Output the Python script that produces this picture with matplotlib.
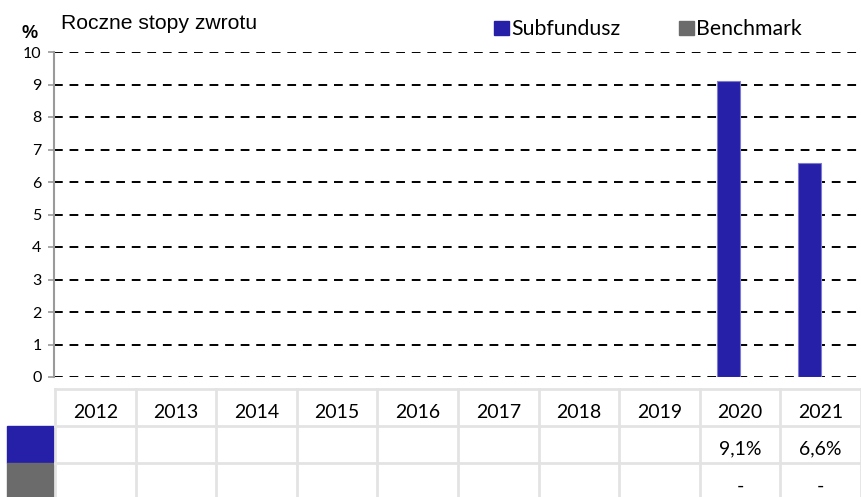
import numpy as np
import matplotlib.pyplot as plt
from matplotlib.patches import Rectangle

years = ["2012", "2013", "2014", "2015", "2016", "2017", "2018", "2019", "2020", "2021"]
subfund = [None, None, None, None, None, None, None, None, 9.1, 6.6]
benchmark = [None, None, None, None, None, None, None, None, None, None]
subfund_labels = ["", "", "", "", "", "", "", "", "9,1%", "6,6%"]
bench_labels = ["", "", "", "", "", "", "", "", "-", "-"]

blue = "#2620A8"
grey = "#6B6B6B"
W, H = 861, 497

fig = plt.figure(figsize=(W / 100, H / 100), dpi=100)

def px(l, t, r, b):
    return [l / W, 1 - b / H, (r - l) / W, (b - t) / H]

ax = fig.add_axes(px(54, 52, 861, 377))
x = np.arange(len(years))
sub_vals = [np.nan if v is None else v for v in subfund]
ben_vals = [np.nan if v is None else v for v in benchmark]
bw = 0.29
ax.bar(x - 0.14, sub_vals, width=bw, color=blue, edgecolor="#7d7ad0", linewidth=0.8, zorder=3)
ax.bar(x + 0.16, ben_vals, width=bw, color=grey, zorder=3)
ax.set_xlim(-0.5, len(years) - 0.5)
ax.set_ylim(0, 10)
ax.set_yticks(range(0, 11))
ax.set_xticks([])
ax.yaxis.grid(True, color="black", linestyle=(0, (4.5, 3.5)), linewidth=1.4, zorder=1)
for s in ["top", "right", "bottom"]:
    ax.spines[s].set_visible(False)
ax.spines["left"].set_color("#9a9a9a")
ax.spines["left"].set_linewidth(1.5)
ax.spines["left"].set_zorder(4)
ax.tick_params(axis="y", length=4, width=1.2, color="#9a9a9a", pad=5, labelsize=11.5)
for lab in ax.get_yticklabels():
    lab.set_fontfamily("Lato")

fig.text(21 / W, 1 - 38 / H, "%", fontsize=13, fontweight="bold", family="Liberation Sans")
fig.text(61 / W, 1 - 29 / H, "Roczne stopy zwrotu", fontsize=15.2, family="Liberation Sans")

# legend
fig.patches.append(Rectangle((494 / W, 1 - 35 / H), 15 / W, 14 / H, transform=fig.transFigure, color=blue))
fig.text(511 / W, 1 - 35 / H, "Subfundusz", fontsize=15.3, family="Lato")
fig.patches.append(Rectangle((679 / W, 1 - 35 / H), 15 / W, 14 / H, transform=fig.transFigure, color=grey))
fig.text(696 / W, 1 - 35 / H, "Benchmark", fontsize=15.3, family="Lato")

# data table under the chart
tax = fig.add_axes(px(0, 388, 861, 497))
tax.set_xlim(0, W)
tax.set_ylim(497, 388)
tax.axis("off")
left, right = 55, 861
cw = (right - left) / len(years)
rows = [389, 426, 463, 497]
gcol = "#e3e3e3"
for y in rows[:3]:
    tax.plot([left, right], [y, y], color=gcol, lw=2)
for i in range(len(years) + 1):
    xx = left + i * cw
    tax.plot([xx, xx], [388, 497], color=gcol, lw=2)
tax.add_patch(Rectangle((7, 426), 47, 37, color=blue))
tax.add_patch(Rectangle((7, 463), 47, 34, color=grey))
for i, yr in enumerate(years):
    cx = left + (i + 0.5) * cw
    tax.text(cx, 412, yr, ha="center", va="center", fontsize=14, family="Lato")
    tax.text(cx, 449, subfund_labels[i], ha="center", va="center", fontsize=14, family="Lato")
    tax.text(cx, 486, bench_labels[i], ha="center", va="center", fontsize=14, family="Lato")

fig.savefig("out.png", dpi=100)
